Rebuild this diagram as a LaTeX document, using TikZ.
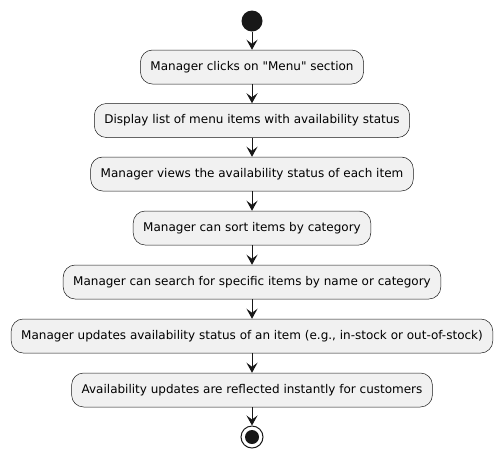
\documentclass[tikz,border=0pt]{standalone}
\usepackage{fontspec}
\setmainfont{DejaVu Sans}
\usetikzlibrary{arrows.meta,positioning}
\definecolor{actfill}{HTML}{F1F1F1}
\definecolor{actline}{HTML}{181818}
\tikzset{
  act/.style={draw=actline,fill=actfill,rounded corners=12pt,line width=0.5pt,
    minimum height=34pt,inner xsep=10pt,font=\fontsize{12}{14}\selectfont},
  flow/.style={-{Stealth[length=10pt,width=11pt,inset=4pt]},color=actline,line width=1pt}
}
\begin{document}
\begin{tikzpicture}[x=1pt,y=-1pt]
		\useasboundingbox (0,0) rectangle (502,459);
		\node[circle,fill=actline,minimum size=21pt,inner sep=0pt] (start) at (252,21) {};
		\node[act] (clicks) at (252,67) {Manager clicks on \textquotedbl Menu\textquotedbl\ section};
		\node[act] (list) at (252,120.5) {Display list of menu items with availability status};
		\node[act] (views) at (252,174) {Manager views the availability status of each item};
		\node[act] (sort) at (252,228) {Manager can sort items by category};
		\node[act] (search) at (252,282) {Manager can search for specific items by name or category};
		\node[act] (update) at (252,336) {Manager updates availability status of an item (e.g., in-stock or out-of-stock)};
		\node[act] (reflect) at (252,390) {Availability updates are reflected instantly for customers};
		\node[circle,draw=actline,line width=1pt,minimum size=22pt,inner sep=0pt] (stop) at (252,437) {};
		\node[circle,fill=actline,minimum size=14pt,inner sep=0pt] at (stop) {};
		\draw[flow] (start) -- (clicks);
		\draw[flow] (clicks) -- (list);
		\draw[flow] (list) -- (views);
		\draw[flow] (views) -- (sort);
		\draw[flow] (sort) -- (search);
		\draw[flow] (search) -- (update);
		\draw[flow] (update) -- (reflect);
		\draw[flow] (reflect) -- (stop);
	\end{tikzpicture}
\end{document}
